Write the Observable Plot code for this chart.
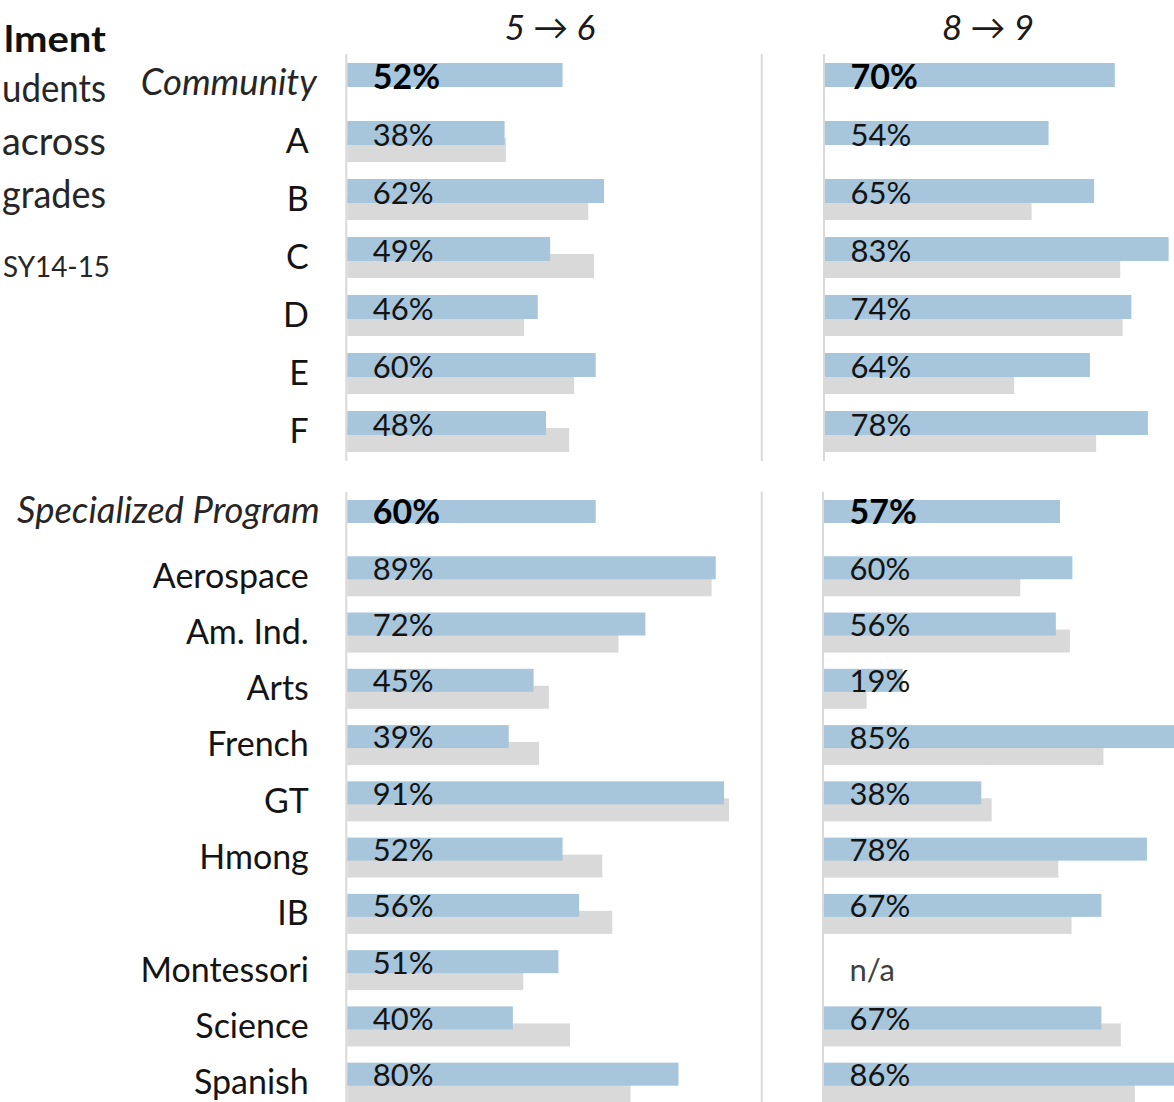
<!DOCTYPE html>
<html>
<head>
<meta charset="utf-8">
<script src="https://cdn.jsdelivr.net/npm/d3@7"></script>
<script src="https://cdn.jsdelivr.net/npm/@observablehq/plot@0.6"></script>
<style>
  html, body { margin: 0; padding: 0; background: #fff; overflow: hidden; }
  #root { position: relative; width: 1174px; height: 1102px; overflow: hidden; font-family: Lato, "Open Sans", sans-serif; }
  .ptitle { position: absolute; font-style: italic; font-size: 35px; color: #1a1a1a; transform: translateX(-50%); white-space: nowrap; line-height: 1; }
</style>
</head>
<body>
<div id="root"></div>
<script>
// ---------- data ----------
const periods = ["5 \u2192 6", "8 \u2192 9"];
const titleLines = ["lment", "udents", "across", "grades", "SY14-15"];

const communityRows = ["Community", "A", "B", "C", "D", "E", "F"];
const community56 = [52, 38, 62, 49, 46, 60, 48];
const community56Prior = [null, 38.3, 58.2, 59.6, 42.7, 54.8, 53.6];
const community89 = [70, 54, 65, 83, 74, 64, 78];
const community89Prior = [null, null, 49.9, 71.3, 71.9, 45.7, 65.5];

const specialRows = ["Specialized Program", "Aerospace", "Am. Ind.", "Arts", "French", "GT", "Hmong", "IB", "Montessori", "Science", "Spanish"];
const special56 = [60, 89, 72, 45, 39, 91, 52, 56, 51, 40, 80];
const special56Prior = [null, 88, 65.5, 48.7, 46.3, 92.2, 61.6, 64, 42.5, 53.8, 68.4];
const special89 = [57, 60, 56, 19, 85, 38, 78, 67, null, 67, 86];
const special89Prior = [null, 47.4, 59.4, 10.3, 67.5, 40.5, 56.6, 59.8, null, 71.7, 75.1];

// ---------- style ----------
const BLUE = "#a7c6dc";
const GRAY = "#d9d9d9";
const LINE = "#d9d9d9";
const TEXT = "#141414";
const FONT = "Lato, 'Open Sans', sans-serif";

function rowsData(rows, cur, prior) {
  return rows.map((r, i) => ({row: r, cur: cur[i], prior: prior[i], header: i === 0}));
}

function panel(o) {
  const data = rowsData(o.rows, o.cur, o.prior);
  const marks = [
    Plot.ruleX([0], {stroke: LINE, strokeWidth: 2, dx: -1.5}),
    Plot.ruleX([100], {stroke: LINE, strokeWidth: 2}),
    Plot.barX(data.filter(d => d.prior != null), {x: "prior", y: "row", fill: GRAY, insetTop: o.offset}),
    Plot.barX(data.filter(d => d.cur != null), {x: "cur", y: "row", fill: BLUE, insetBottom: o.band - o.barH}),
    Plot.text(data.filter(d => !d.header && d.cur != null), {
      y: "row", text: d => d.cur + "%", frameAnchor: "left", textAnchor: "start",
      dx: 25, dy: o.valueDy, fontSize: 31, fill: TEXT
    }),
    Plot.text(data.filter(d => d.header && d.cur != null), {
      y: "row", text: d => d.cur + "%", frameAnchor: "left", textAnchor: "start",
      dx: 25, dy: o.valueDy, fontSize: 34, fontWeight: "bold", fill: "#000"
    }),
    Plot.text(data.filter(d => d.cur == null), {
      y: "row", text: () => "n/a", frameAnchor: "left", textAnchor: "start",
      dx: 25, dy: 0, fontSize: 31, fill: "#404040"
    })
  ];
  if (o.showLabels) {
    marks.push(Plot.text(data.filter(d => !d.header), {
      y: "row", text: "row", frameAnchor: "left", textAnchor: "end",
      dx: -39, dy: o.labelDy, fontSize: 34, fill: TEXT
    }));
    marks.push(Plot.text(data.filter(d => d.header), {
      y: "row", text: "row", frameAnchor: "left", textAnchor: "end",
      dx: o.headerDx, dy: o.headerDy, fontSize: 36.5, fontStyle: "italic", fill: "#262626"
    }));
  }
  const svg = Plot.plot({
    width: o.width, height: o.height,
    marginLeft: o.marginLeft, marginRight: o.marginRight,
    marginTop: o.marginTop, marginBottom: o.marginBottom,
    x: {domain: [0, 100], axis: null},
    y: {domain: o.rows, axis: null, paddingInner: o.pi, paddingOuter: o.po, round: false},
    style: {fontFamily: FONT, background: "transparent", overflow: "visible"},
    marks
  });
  svg.style.position = "absolute";
  svg.style.left = o.left + "px";
  svg.style.top = o.top + "px";
  return svg;
}

const root = document.getElementById("root");

// Community section
const comm = {rows: communityRows, top: 0, height: 470, marginTop: 54, marginBottom: 9,
  pi: 17 / 58, po: 9 / 58, band: 41, barH: 24, offset: 17, valueDy: -6, labelDy: 0, headerDy: -1, headerDx: -31};
// Specialized section
const spec = {rows: specialRows, top: 470, height: 650, marginTop: 21.7, marginBottom: 9,
  pi: 16.27 / 56.27, po: 8.3 / 56.27, band: 40, barH: 23, offset: 17, valueDy: -7, labelDy: 0, headerDy: -9, headerDx: -28};

root.appendChild(panel({...comm, cur: community56, prior: community56Prior, showLabels: true,
  left: 0, width: 347.3 + 414 + 6, marginLeft: 347.3, marginRight: 6}));
root.appendChild(panel({...comm, cur: community89, prior: community89Prior, showLabels: false,
  left: 815, width: 10 + 414 + 6, marginLeft: 10, marginRight: 6}));
root.appendChild(panel({...spec, cur: special56, prior: special56Prior, showLabels: true,
  left: 0, width: 347.3 + 414 + 6, marginLeft: 347.3, marginRight: 6}));
root.appendChild(panel({...spec, cur: special89, prior: special89Prior, showLabels: false,
  left: 814, width: 10 + 414 + 6, marginLeft: 10, marginRight: 6}));

// Period titles
[[periods[0], 550], [periods[1], 988]].forEach(([t, cx]) => {
  const d = document.createElement("div");
  d.className = "ptitle";
  d.textContent = t;
  d.style.left = cx + "px";
  d.style.top = "9px";
  root.appendChild(d);
});

// Left title fragments (cropped in the reference)
const ann = d3.select(root).append("svg")
  .attr("width", 340).attr("height", 300)
  .style("position", "absolute").style("left", "0px").style("top", "0px")
  .attr("font-family", FONT);
const specs = [
  {t: titleLines[0], x: 106, y: 51.7, size: 37, weight: "bold", fill: "#111", len: 102},
  {t: titleLines[1], x: 106, y: 101.7, size: 38, weight: "normal", fill: "#262626", len: 104},
  {t: titleLines[2], x: 106, y: 155, size: 38, weight: "normal", fill: "#262626", len: 104},
  {t: titleLines[3], x: 106, y: 208, size: 38, weight: "normal", fill: "#262626", len: 104},
  {t: titleLines[4], x: 110, y: 276.7, size: 29, weight: "normal", fill: "#262626", len: 107}
];
specs.forEach(s => {
  ann.append("text").attr("x", s.x).attr("y", s.y).attr("text-anchor", "end")
    .attr("font-size", s.size).attr("font-weight", s.weight).attr("fill", s.fill)
    .attr("textLength", s.len).attr("lengthAdjust", "spacingAndGlyphs").text(s.t);
});
</script>
</body>
</html>
